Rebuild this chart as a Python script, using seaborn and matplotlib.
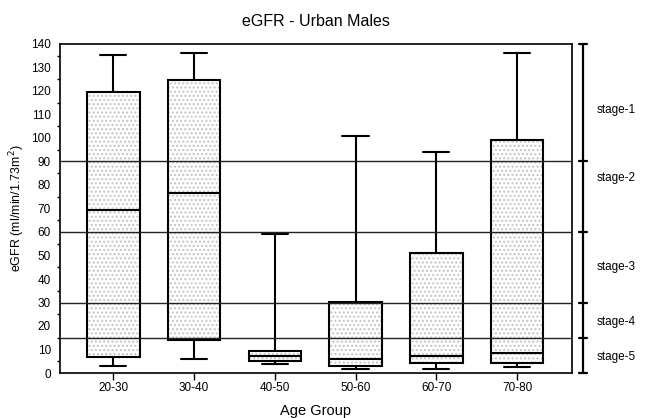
import numpy as np
import pandas as pd
import matplotlib
matplotlib.use("Agg")
import matplotlib.pyplot as plt
import matplotlib.transforms as mtransforms
from matplotlib.patches import PathPatch
import seaborn as sns

# ---- data (five-number summaries) ----
groups = ["20-30", "30-40", "40-50", "50-60", "60-70", "70-80"]
whisker_low = [2.9, 5.8, 3.8, 1.6, 1.6, 2.7]
q1 = [6.6, 14.0, 5.3, 3.0, 4.1, 4.4]
median = [69.4, 76.8, 7.3, 5.8, 7.3, 8.7]
q3 = [119.5, 124.6, 9.3, 30.3, 51.2, 99.2]
whisker_high = [135.2, 136.0, 59.2, 101.0, 93.9, 136.0]

stage_bounds = [140, 90, 60, 30, 15, 0]
stage_lines = [90, 60, 30, 15]
stage_labels = ["stage-1", "stage-2", "stage-3", "stage-4", "stage-5"]
stage_label_y = [112, 83, 45, 21.8, 6.7]

yticks = list(range(0, 141, 10))

# build a long table whose 0/25/50/75/100 percentiles equal the summaries
rows = []
for g, a, b, c, d, e in zip(groups, whisker_low, q1, median, q3, whisker_high):
    for v in (a, b, c, d, e):
        rows.append({"Age Group": g, "eGFR": v})
df = pd.DataFrame(rows)

sns.set_theme(style="white")
plt.rcParams["font.family"] = ["Liberation Sans", "DejaVu Sans"]
plt.rcParams["text.color"] = "black"
plt.rcParams["axes.labelcolor"] = "black"
plt.rcParams["xtick.color"] = "black"
plt.rcParams["ytick.color"] = "black"

fig = plt.figure(figsize=(6.46, 4.18), dpi=100)
ax = fig.add_axes([60 / 646, 45 / 418, 512 / 646, 329 / 418])

sns.boxplot(data=df, x="Age Group", y="eGFR", order=groups, whis=(0, 100),
            width=0.65, color="white", saturation=1, linecolor="black",
            linewidth=1.5, showfliers=False, ax=ax)

# stipple texture on boxes: textured fill below, outline on top
for p in list(ax.patches):
    overlay = PathPatch(p.get_path(), transform=p.get_transform(),
                        facecolor="white", edgecolor="#c4c4c4", linewidth=0,
                        hatch="....", zorder=p.get_zorder() - 0.1)
    ax.add_patch(overlay)
    p.set_facecolor("none")

for v in stage_lines:
    ax.axhline(v, color="#222222", linewidth=1.0, zorder=5)

ax.set_xlim(-0.66, 5.68)
ax.set_ylim(0, 140)
ax.set_yticks(yticks)
ax.set_yticks(np.arange(5, 140, 10), minor=True)
ax.tick_params(axis="both", which="major", direction="out", length=5, width=1,
               labelsize=8.5, color="black", pad=1.5)
ax.tick_params(axis="y", which="minor", direction="out", length=2.5, width=1,
               color="black", left=True)
ax.tick_params(axis="x", bottom=True)
for s in ax.spines.values():
    s.set_color("black")
    s.set_linewidth(1.2)

ax.set_xlabel("Age Group", fontsize=10.5, labelpad=7)
ax.set_ylabel("eGFR (ml/min/1.73m$^2$)", fontsize=9, labelpad=3)
ax.set_title("eGFR - Urban Males", fontsize=11.5, pad=13)

# right-side stage bracket
trans = mtransforms.blended_transform_factory(ax.transAxes, ax.transData)
ax.plot([1.0215, 1.0215], [stage_bounds[-1], stage_bounds[0]], color="black",
        linewidth=1.6, transform=trans, clip_on=False)
for b in stage_bounds:
    ax.plot([1.0135, 1.0295], [b, b], color="black", linewidth=1.6,
            transform=trans, clip_on=False)
for lab, yv in zip(stage_labels, stage_label_y):
    ax.text(1.048, yv, lab, transform=trans, fontsize=8.5, va="center", ha="left")

fig.savefig("out.png", dpi=100)
